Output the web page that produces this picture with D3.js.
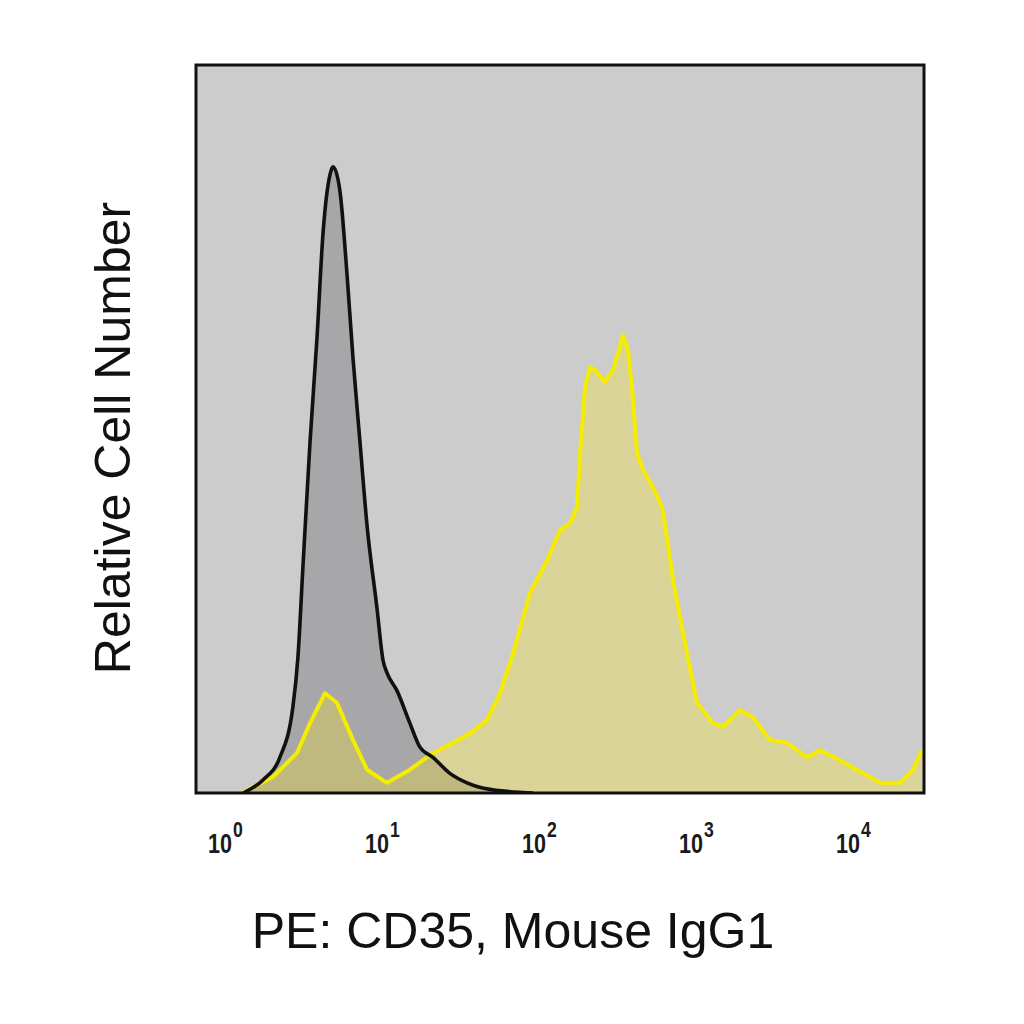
<!DOCTYPE html>
<html>
<head>
<meta charset="utf-8">
<script src="https://cdn.jsdelivr.net/npm/d3@7"></script>
<style>
  html, body { margin: 0; padding: 0; background: #ffffff; }
  svg { display: block; }
</style>
</head>
<body>
<svg id="chart" width="1024" height="1024"></svg>
<script>
// ---- Data (fluorescence intensity, relative cell count) ----
const isotypeX = [1.25, 1.67, 2.14, 2.59, 2.79, 3.0, 3.33, 3.69, 4.03, 4.46, 4.67, 5.17, 5.73, 6.25, 6.93, 7.68, 8.89, 9.7, 10.3, 11.9, 14.4, 16.7, 20.2, 25.9, 33.3, 46.6, 87.7];
const isotypeY = [0, 1.8, 4.9, 11.8, 18.7, 31.0, 48.2, 62.6, 76.9, 84.9, 86.0, 82.6, 71.2, 59.8, 48.2, 36.8, 25.4, 18.3, 16.5, 14.1, 9.6, 6.3, 4.9, 2.7, 1.4, 0.5, 0];

const cd35X = [1.25, 1.93, 2.75, 3.33, 4.15, 4.94, 6.25, 7.68, 10.3, 14.4, 20.2, 27.1, 34.8, 44.6, 54.0, 65.4, 83.9, 108, 130, 151, 167, 175, 188, 202, 218, 252, 283, 305, 328, 353, 374, 403, 440, 509, 581, 625, 683, 839, 971, 1227, 1422, 1825, 2208, 2833, 3637, 4874, 5900, 7910, 14220, 19050, 23070, 26300];
const cd35Y = [0.1, 2.2, 5.5, 9.6, 13.7, 12.4, 7.3, 3.2, 1.4, 3.2, 5.5, 6.9, 8.2, 10.0, 13.7, 19.2, 27.5, 32.0, 36.1, 37.1, 39.3, 46.7, 55.8, 58.5, 58.1, 56.5, 58.1, 60.4, 62.9, 60.9, 55.8, 46.7, 44.4, 42.0, 39.3, 35.2, 29.3, 19.2, 12.4, 9.6, 9.1, 11.4, 10.4, 7.3, 6.9, 4.9, 5.9, 4.5, 1.4, 1.4, 3.2, 5.9];

const tickValues = [1, 10, 100, 1000, 10000];
const tickExponents = ["0", "1", "2", "3", "4"];
const xTitle = "PE: CD35, Mouse IgG1";
const yTitle = "Relative Cell Number";

// ---- Layout ----
const plot = { left: 196, top: 65, right: 924, bottom: 793 };
const svg = d3.select("#chart");

const x = d3.scaleLog()
  .domain([Math.pow(10, -0.2038), Math.pow(10, 4.4331)])
  .range([plot.left, plot.right]);
const y = d3.scaleLinear()
  .domain([0, 100])
  .range([plot.bottom, plot.top]);

const isotype = isotypeX.map((v, i) => ({ x: v, y: isotypeY[i] }));
const cd35 = cd35X.map((v, i) => ({ x: v, y: cd35Y[i] }));

svg.append("defs").append("clipPath").attr("id", "plotClip")
  .append("rect")
  .attr("x", plot.left).attr("y", plot.top)
  .attr("width", plot.right - plot.left).attr("height", plot.bottom - plot.top);

// background
svg.append("rect")
  .attr("x", plot.left).attr("y", plot.top)
  .attr("width", plot.right - plot.left).attr("height", plot.bottom - plot.top)
  .attr("fill", "#cccccc");

const g = svg.append("g").attr("clip-path", "url(#plotClip)");

const areaSmooth = d3.area().x(d => x(d.x)).y0(y(0)).y1(d => y(d.y)).curve(d3.curveMonotoneX);
const lineSmooth = d3.line().x(d => x(d.x)).y(d => y(d.y)).curve(d3.curveMonotoneX);
const areaLin = d3.area().x(d => x(d.x)).y0(y(0)).y1(d => y(d.y)).curve(d3.curveLinear);
const lineLin = d3.line().x(d => x(d.x)).y(d => y(d.y)).curve(d3.curveLinear);

g.append("path").datum(isotype).attr("d", areaSmooth).attr("fill", "#a7a7a9");
g.append("path").datum(cd35).attr("d", areaLin).attr("fill", "rgb(255,235,20)").attr("fill-opacity", 0.28);

g.append("path").datum(cd35).attr("d", lineLin)
  .attr("fill", "none").attr("stroke", "#f5ec00").attr("stroke-width", 4)
  .attr("stroke-linejoin", "round");
g.append("path").datum(isotype).attr("d", lineSmooth)
  .attr("fill", "none").attr("stroke", "#111111").attr("stroke-width", 3.6)
  .attr("stroke-linejoin", "round");

// frame
svg.append("rect")
  .attr("x", plot.left).attr("y", plot.top)
  .attr("width", plot.right - plot.left).attr("height", plot.bottom - plot.top)
  .attr("fill", "none").attr("stroke", "#111111").attr("stroke-width", 3);

// x tick labels (10^n)
const tickG = svg.append("g")
  .attr("font-family", "'Liberation Sans', Arial, sans-serif")
  .attr("font-weight", "bold")
  .attr("fill", "#1a1a1a");
tickValues.forEach((v, i) => {
  tickG.append("text")
    .attr("transform", `translate(${x(v) - 8},853) scale(0.8,1)`)
    .attr("text-anchor", "middle")
    .attr("font-size", 27)
    .text("10");
  tickG.append("text")
    .attr("transform", `translate(${x(v) + 5},837) scale(0.8,1)`)
    .attr("text-anchor", "start")
    .attr("font-size", 22)
    .text(tickExponents[i]);
});

// axis titles
svg.append("text")
  .attr("x", 513).attr("y", 948)
  .attr("text-anchor", "middle")
  .attr("font-family", "'Liberation Sans', Arial, sans-serif")
  .attr("font-size", 50)
  .attr("fill", "#111111")
  .text(xTitle);

svg.append("text")
  .attr("transform", "translate(130,438) rotate(-90)")
  .attr("text-anchor", "middle")
  .attr("font-family", "'Liberation Sans', Arial, sans-serif")
  .attr("font-size", 50)
  .attr("fill", "#111111")
  .text(yTitle);
</script>
</body>
</html>
